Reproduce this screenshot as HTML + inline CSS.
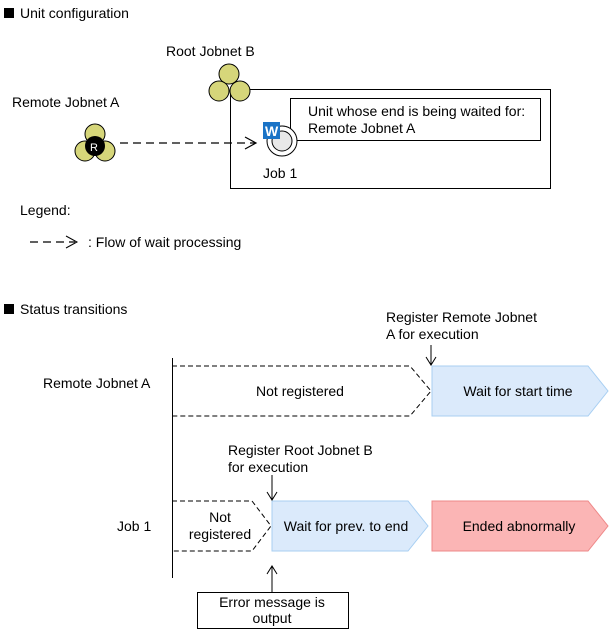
<!DOCTYPE html>
<html><head><style>
body{margin:0;background:#fff;}
svg{display:block;font-family:"Liberation Sans",Arial,sans-serif;font-size:14px;fill:#000}
</style></head><body>
<svg width="611" height="631" viewBox="0 0 611 631" xmlns="http://www.w3.org/2000/svg">
<rect x="4" y="8" width="10" height="10" fill="#000"/>
<text x="20" y="18">Unit configuration</text>
<text x="166" y="56">Root Jobnet B</text>
<text x="12" y="107">Remote Jobnet A</text>
<!-- root box -->
<rect x="230.5" y="89.5" width="320" height="99" fill="none" stroke="#000"/>
<circle cx="229" cy="74" r="10" fill="#d6d67a" stroke="#000"/>
<circle cx="219" cy="91" r="10" fill="#d6d67a" stroke="#000"/>
<circle cx="240" cy="91" r="10" fill="#d6d67a" stroke="#000"/>
<!-- callout -->
<rect x="290.5" y="98.5" width="250" height="42" fill="#fff" stroke="#000"/>
<text x="308" y="116">Unit whose end is being waited for:</text>
<text x="308" y="133">Remote Jobnet A</text>
<!-- job icon -->
<circle cx="282" cy="141" r="15" fill="#fff" stroke="#000"/>
<circle cx="282" cy="141" r="10" fill="#e8e8e8" stroke="#000"/>
<rect x="263" y="122" width="17" height="17" fill="#1a73c6"/>
<text x="265" y="136" font-weight="bold" style="fill:#fff">W</text>
<text x="263" y="178">Job 1</text>
<!-- remote jobnet -->
<circle cx="95" cy="134" r="10" fill="#d6d67a" stroke="#000"/>
<circle cx="85" cy="151" r="10" fill="#d6d67a" stroke="#000"/>
<circle cx="105" cy="151" r="10" fill="#d6d67a" stroke="#000"/>
<circle cx="95" cy="146" r="10" fill="#000"/>
<text x="90" y="151" font-size="11" style="fill:#fff">R</text>
<line x1="120" y1="143" x2="255" y2="143" stroke="#000" stroke-width="1.3" stroke-dasharray="8,5"/>
<polyline points="245,137 256,143 245,149" fill="none" stroke="#000" stroke-width="1.2"/>
<!-- legend -->
<text x="20" y="215">Legend:</text>
<line x1="30" y1="242" x2="75" y2="242" stroke="#000" stroke-width="1.2" stroke-dasharray="8,5"/>
<polyline points="66,236 77,242 66,248" fill="none" stroke="#000" stroke-width="1"/>
<text x="88" y="247">: Flow of wait processing</text>
<!-- status transitions -->
<rect x="4" y="304" width="10" height="10" fill="#000"/>
<text x="20" y="314">Status transitions</text>
<line x1="172.5" y1="358" x2="172.5" y2="578" stroke="#000"/>
<text x="43" y="388">Remote Jobnet A</text>
<text x="117" y="531">Job 1</text>
<!-- row1 -->
<polyline points="172,366 410,366 431,391 410,416 172,416" fill="none" stroke="#000" stroke-dasharray="5,3"/>
<text x="300" y="396" text-anchor="middle">Not registered</text>
<polygon points="432,366 588,366 608,391 588,416 432,416" fill="#dbeafb" stroke="#a8cff2"/>
<text x="518" y="396" text-anchor="middle">Wait for start time</text>
<text x="386" y="322">Register Remote Jobnet</text>
<text x="386" y="339">A for execution</text>
<line x1="431" y1="345" x2="431" y2="365" stroke="#000"/>
<polyline points="426,357 431,365 436,357" fill="none" stroke="#000"/>
<!-- row2 -->
<polyline points="172,501 252,501 271,526 252,551 172,551" fill="none" stroke="#000" stroke-dasharray="5,3"/>
<text x="220" y="522" text-anchor="middle">Not</text>
<text x="220" y="539" text-anchor="middle">registered</text>
<polygon points="272,501 408,501 428,526 408,551 272,551" fill="#dbeafb" stroke="#a8cff2"/>
<text x="346" y="531" text-anchor="middle">Wait for prev. to end</text>
<polygon points="432,501 588,501 608,526 588,551 432,551" fill="#fbb5b5" stroke="#e88"/>
<text x="519" y="531" text-anchor="middle">Ended abnormally</text>
<text x="228" y="455">Register Root Jobnet B</text>
<text x="228" y="472">for execution</text>
<line x1="272" y1="475" x2="272" y2="500" stroke="#000"/>
<polyline points="267,492 272,500 277,492" fill="none" stroke="#000"/>
<!-- error -->
<line x1="272" y1="566" x2="272" y2="592" stroke="#000"/>
<polyline points="267,574 272,566 277,574" fill="none" stroke="#000"/>
<rect x="197.5" y="592.5" width="151" height="36" fill="#fff" stroke="#000"/>
<text x="272" y="607" text-anchor="middle">Error message is</text>
<text x="272" y="623" text-anchor="middle">output</text>
</svg>
</body></html>
